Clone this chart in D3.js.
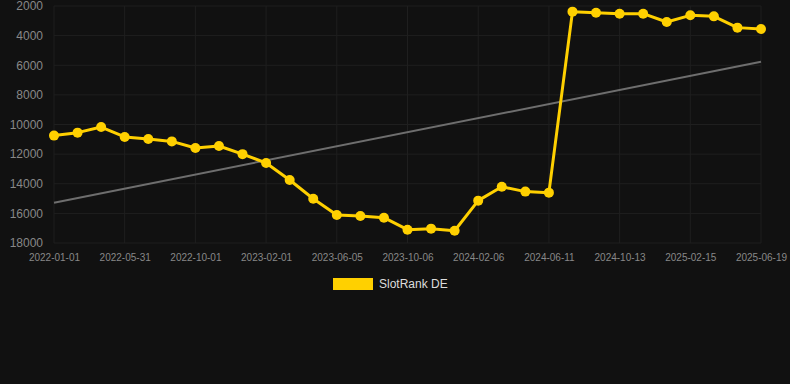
<!DOCTYPE html>
<html><head><meta charset="utf-8">
<script src="https://cdn.jsdelivr.net/npm/d3@7"></script>
<style>
html,body{margin:0;padding:0;background:#111111;}
svg{display:block;font-family:"Liberation Sans",Arial,Helvetica,sans-serif;}
</style></head>
<body>
<svg id="chart" width="790" height="384"></svg>
<script>
// ---- data ----
const xLabels = ["2022-01-01","2022-05-31","2022-10-01","2023-02-01","2023-06-05","2023-10-06","2024-02-06","2024-06-11","2024-10-13","2025-02-15","2025-06-19"];
const labelEvery = 3;
const rankValues = [10750,10550,10170,10840,10980,11140,11590,11450,12000,12600,
                    13750,15010,16110,16180,16290,17100,17030,17170,15140,14200,
                    14530,14600,2380,2450,2520,2520,3080,2630,2700,3460,3550];
const trendValues = [15280, 5760];   // trend line at first and last point
const yTicks = [2000,4000,6000,8000,10000,12000,14000,16000,18000];
const seriesName = "SlotRank DE";

// ---- layout ----
const svg = d3.select("#chart");
const mLeft = 54, mRight = 761, mTop = 6, mBottom = 243;
const gold = "#FFD000";
const gridColor = "#1f1f1f";

const x = d3.scaleLinear().domain([0, rankValues.length - 1]).range([mLeft, mRight]);
const y = d3.scaleLinear().domain([2000, 18000]).range([mTop, mBottom]);

// grid
const grid = svg.append("g");
grid.selectAll("line.h").data(yTicks).join("line")
  .attr("x1", mLeft).attr("x2", mRight)
  .attr("y1", d => y(d)).attr("y2", d => y(d))
  .attr("stroke", gridColor).attr("stroke-width", 1);
const xTickIdx = xLabels.map((d, i) => i * labelEvery);
grid.selectAll("line.v").data(xTickIdx).join("line")
  .attr("x1", d => x(d)).attr("x2", d => x(d))
  .attr("y1", mTop).attr("y2", mBottom)
  .attr("stroke", gridColor).attr("stroke-width", 1);

// y axis
const yAxis = d3.axisLeft(y).tickValues(yTicks).tickSize(0).tickPadding(11).tickFormat(d3.format("d"));
svg.append("g").attr("transform", `translate(${mLeft},0)`).call(yAxis)
  .call(g => g.select(".domain").remove())
  .selectAll("text").attr("fill", "#888").attr("font-size", 12)
  .attr("font-family", "Liberation Sans, Arial, sans-serif");

// x axis
const xAxis = d3.axisBottom(x).tickValues(xTickIdx).tickSize(0).tickPadding(11)
  .tickFormat((d, i) => xLabels[i]);
svg.append("g").attr("transform", `translate(0,${mBottom})`).call(xAxis)
  .call(g => g.select(".domain").remove())
  .selectAll("text").attr("fill", "#888").attr("font-size", 10)
  .attr("font-family", "Liberation Sans, Arial, sans-serif");

// trend line
svg.append("line")
  .attr("x1", x(0)).attr("y1", y(trendValues[0]))
  .attr("x2", x(rankValues.length - 1)).attr("y2", y(trendValues[1]))
  .attr("stroke", "#6e6e6e").attr("stroke-width", 2);

// series line
const line = d3.line().x((d, i) => x(i)).y(d => y(d));
svg.append("path").datum(rankValues)
  .attr("d", line).attr("fill", "none")
  .attr("stroke", gold).attr("stroke-width", 3).attr("stroke-linejoin", "round");

svg.append("g").selectAll("circle").data(rankValues).join("circle")
  .attr("cx", (d, i) => x(i)).attr("cy", d => y(d)).attr("r", 5)
  .attr("fill", gold);

// legend
const lg = svg.append("g");
lg.append("rect").attr("x", 333).attr("y", 278).attr("width", 40).attr("height", 12).attr("fill", gold);
lg.append("text").attr("x", 379).attr("y", 284).attr("dy", "0.35em")
  .attr("fill", "#dddddd").attr("font-size", 12).text(seriesName);
</script>
</body></html>
